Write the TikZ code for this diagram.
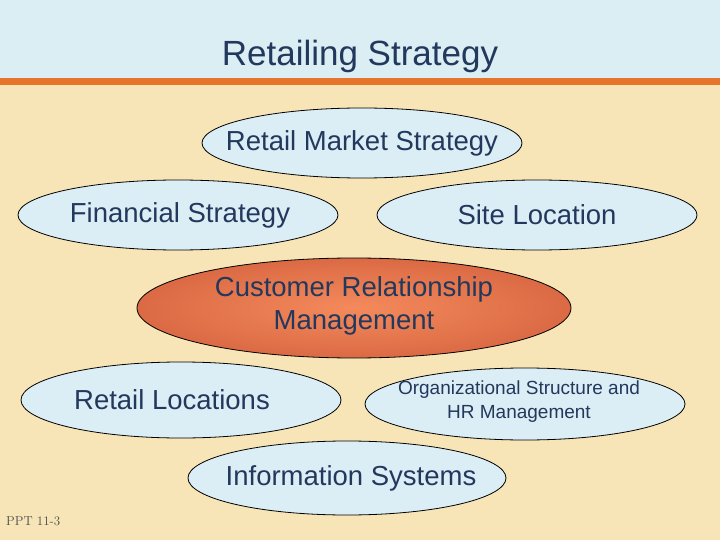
\documentclass[tikz,border=0pt]{standalone}
\usepackage{fontspec}
\setmainfont{Liberation Sans}
\usetikzlibrary{shapes.geometric}
\definecolor{bg}{HTML}{F7E5B8}
\definecolor{band}{HTML}{DAEEF3}
\definecolor{bar}{HTML}{E8732A}
\definecolor{ell}{HTML}{DCEEF5}
\definecolor{txt}{HTML}{22385C}
\definecolor{crmin}{HTML}{F48A5C}
\definecolor{crmout}{HTML}{DB6A44}
\tikzset{
  oval/.style={ellipse, draw=black, line width=0.8pt, fill=ell, inner sep=0pt},
  lbl/.style={text=txt, align=center, inner sep=0pt, font=\fontsize{27.5}{33}\selectfont},
}
\begin{document}
\begin{tikzpicture}[x=1pt,y=-1pt]
\useasboundingbox (0,0) rectangle (720,540);
\fill[bg] (0,0) rectangle (720,540);
\fill[band] (0,0) rectangle (720,78);
\fill[bar] (0,78) rectangle (720,85);
\node[text=txt, font=\fontsize{35}{40}\selectfont] (title) at (360,56) {Retailing Strategy};
\node[oval, minimum width=320, minimum height=70] (rms) at (362,143) {};
\node[lbl] (rmsT) at (rms.center) {Retail Market Strategy};
\node[oval, minimum width=320, minimum height=70] (fin) at (178,215) {};
\node[lbl] (finT) at ([xshift=2pt]fin.center) {Financial Strategy};
\node[oval, minimum width=320, minimum height=70] (site) at (537,215) {};
\node[lbl] (siteT) at (site.center) {Site Location};
\node[ellipse, draw=black, line width=0.8pt, inner color=crmin, outer color=crmout, inner sep=0pt, minimum width=434, minimum height=100] (crm) at (354,308) {};
\node[lbl] (crmT) at ([yshift=2pt]crm.center) {Customer Relationship\\Management};
\node[oval, minimum width=320, minimum height=76] (loc) at (181,400) {};
\node[lbl] (locT) at ([xshift=-9pt]loc.center) {Retail Locations};
\node[oval, minimum width=320, minimum height=72] (org) at (525,404) {};
\node[lbl, font=\fontsize{19}{24}\selectfont] (orgT) at ([xshift=-6pt,yshift=2pt]org.center) {Organizational Structure and\\HR Management};
\node[oval, minimum width=318, minimum height=74] (info) at (347,478) {};
\node[lbl] (infoT) at ([xshift=4pt]info.center) {Information Systems};
\node[text=black!70, font=\fontfamily{lmr}\selectfont\fontsize{13}{15}\selectfont, anchor=west, inner sep=0pt] (ppt) at (6,521) {PPT 11-3};
\end{tikzpicture}
\end{document}
